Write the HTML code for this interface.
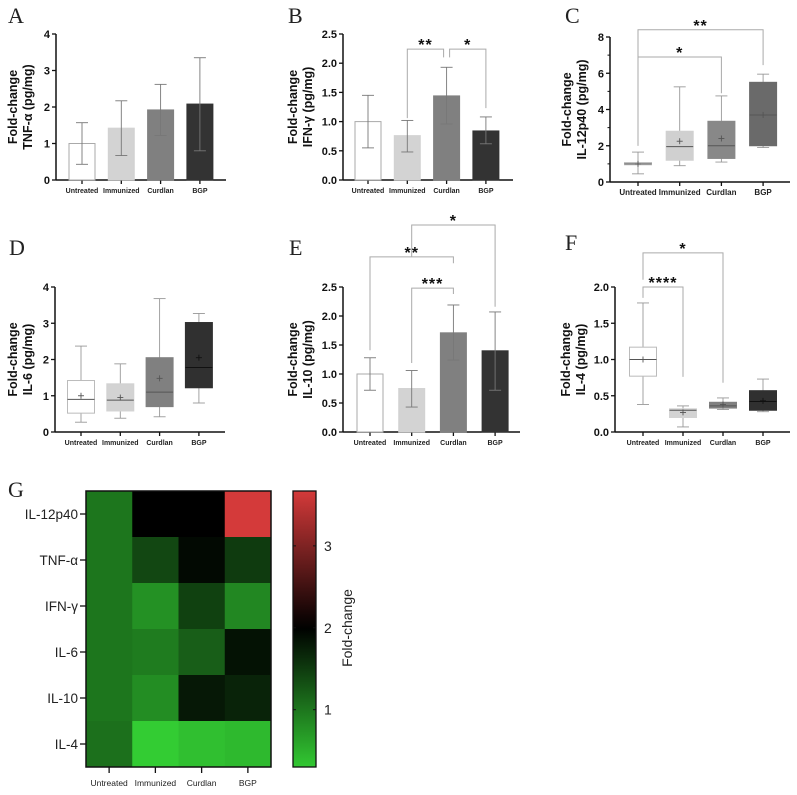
<!DOCTYPE html>
<html><head><meta charset="utf-8"><style>
html,body{margin:0;padding:0;background:#fff;}
svg{display:block;font-family:"Liberation Sans",Arial,sans-serif;}
.pl{font-family:"Liberation Serif",serif;font-size:22px;fill:#222}
</style></head><body>
<svg id="fig" width="797" height="795" viewBox="0 0 797 795" xmlns="http://www.w3.org/2000/svg"></svg>
<script>
const categories = ["Untreated","Immunized","Curdlan","BGP"];
// Panel A (bar, TNF-a)
const aMean = [1.0, 1.42, 1.92, 2.08];
const aLow  = [0.43, 0.67, 1.22, 0.80];
const aHigh = [1.57, 2.17, 2.62, 3.35];
const aTicks = [0,1,2,3,4];
// Panel B (bar, IFN-g)
const bMean = [1.0, 0.76, 1.44, 0.84];
const bLow  = [0.55, 0.48, 0.96, 0.62];
const bHigh = [1.45, 1.02, 1.93, 1.08];
const bTicks = [0,0.5,1.0,1.5,2.0,2.5];
// Panel C (box, IL-12p40)
const cMin = [0.45, 0.9, 1.1, 1.9];
const cQ1  = [0.95, 1.2, 1.3, 2.0];
const cMed = [1.0, 1.95, 2.0, 3.7];
const cQ3  = [1.07, 2.8, 3.35, 5.5];
const cMax = [1.65, 5.25, 4.75, 5.95];
const cAvg = [1.0, 2.25, 2.4, 3.7];
const cTicks = [0,2,4,6,8];
// Panel D (box, IL-6)
const dMin = [0.27, 0.38, 0.42, 0.8];
const dQ1  = [0.52, 0.58, 0.7, 1.22];
const dMed = [0.9, 0.88, 1.1, 1.78];
const dQ3  = [1.42, 1.33, 2.05, 3.02];
const dMax = [2.37, 1.88, 3.68, 3.27];
const dAvg = [1.0, 0.95, 1.48, 2.05];
const dTicks = [0,1,2,3,4];
// Panel E (bar, IL-10)
const eMean = [1.0, 0.75, 1.71, 1.40];
const eLow  = [0.72, 0.43, 1.24, 0.72];
const eHigh = [1.28, 1.06, 2.19, 2.07];
const eTicks = [0,0.5,1.0,1.5,2.0,2.5];
// Panel F (box, IL-4)
const fMin = [0.38, 0.07, 0.31, 0.28];
const fQ1  = [0.77, 0.2, 0.33, 0.3];
const fMed = [1.0, 0.3, 0.36, 0.42];
const fQ3  = [1.17, 0.32, 0.41, 0.57];
const fMax = [1.78, 0.36, 0.47, 0.73];
const fAvg = [1.0, 0.27, 0.38, 0.43];
const fTicks = [0,0.5,1.0,1.5,2.0];
// Heatmap G
const hmRows = ["IL-12p40","TNF-α","IFN-γ","IL-6","IL-10","IL-4"];
const hmValues = [
  [1.0, 2.0, 2.0, 3.7],
  [1.0, 1.4, 1.92, 1.5],
  [1.0, 0.77, 1.45, 0.85],
  [1.0, 0.95, 1.2, 1.85],
  [1.0, 0.8, 1.8, 1.7],
  [1.05, 0.27, 0.38, 0.43]
];
const cbTicks = [1,2,3];

const NS="http://www.w3.org/2000/svg";
const svg=document.getElementById('fig');
function el(tag,attrs,parent,text){const e=document.createElementNS(NS,tag);for(const k in attrs)e.setAttribute(k,attrs[k]);if(text!==undefined)e.textContent=text;(parent||svg).appendChild(e);return e;}

function axes(p){
  const g=el('g',{});
  
  
  const ys=v=>p.y0-(v/p.max)*(p.y0-p.yTop);
  p.ys=ys;
  p.xs=i=>p.cx0+i*p.step;
  el('line',{x1:p.ax,y1:p.y0,x2:p.ax,y2:p.yTop,stroke:'#111','stroke-width':1.5},g);
  el('line',{x1:p.ax,y1:p.y0,x2:p.axEnd,y2:p.y0,stroke:'#111','stroke-width':1.5},g);
  p.ticks.forEach(t=>{
    const y=ys(t);
    el('line',{x1:p.ax-4,y1:y,x2:p.ax,y2:y,stroke:'#111','stroke-width':1.3},g);
    const tl=el('text',{x:p.ax-6,y:y+4,'text-anchor':'end','font-size':11,'font-weight':'bold',fill:'#111'},g,p.dec?t.toFixed(1):String(t));
    
    
  });
  if(p.minor){for(let k=0;k<p.ticks.length-1;k++){const y=ys((p.ticks[k]+p.ticks[k+1])/2);el('line',{x1:p.ax-2.5,y1:y,x2:p.ax,y2:y,stroke:'#111','stroke-width':1},g);}}
  categories.forEach((c,i)=>{
    const x=p.xs(i);
    el('line',{x1:x,y1:p.y0,x2:x,y2:p.y0+4,stroke:'#111','stroke-width':1.3},g);
    const cl=el('text',{x:x,y:p.y0+13,'text-anchor':'middle','font-size':p.catSize||7,'font-weight':'bold',fill:'#222'},g,c);
    
    
  });
  const t=el('text',{transform:`translate(${p.titleX},${(p.y0+p.yTop)/2}) rotate(-90)`,'text-anchor':'middle','font-size':12.5,'font-weight':'bold',fill:'#111'},g);
  
  
  el('tspan',{x:0,y:0},t,'Fold-change');
  el('tspan',{x:0,y:15},t,p.title);
  const L=el('text',{x:p.lx,y:p.ly,class:'pl'},svg,p.letter);
  
  
}

function barPanel(p,mean,low,high){
  axes(p);
  const ys=p.ys;
  mean.forEach((m,i)=>{
    const x=p.xs(i);
    const r=el('rect',{x:x-13,y:ys(m),width:26,height:p.y0-ys(m),fill:p.colors[i],stroke:i===0?'#aaa':p.colors[i],'stroke-width':1});
    
    
    const eg=el('g',{stroke:'#777','stroke-width':0.9,fill:'none'});
    
    
    el('line',{x1:x,y1:ys(low[i]),x2:x,y2:ys(high[i])},eg);
    el('line',{x1:x-6,y1:ys(high[i]),x2:x+6,y2:ys(high[i])},eg);
    el('line',{x1:x-6,y1:ys(low[i]),x2:x+6,y2:ys(low[i])},eg);
  });
}

function boxPanel(p,mn,q1,md,q3,mx,avg){
  axes(p);
  const ys=p.ys;
  mn.forEach((v,i)=>{
    const x=p.xs(i), w=p.bw;
    const g=el('g',{});
    
    
    el('line',{x1:x,y1:ys(mn[i]),x2:x,y2:ys(mx[i]),stroke:'#999','stroke-width':0.9},g);
    el('line',{x1:x-6,y1:ys(mn[i]),x2:x+6,y2:ys(mn[i]),stroke:'#999','stroke-width':0.9},g);
    el('line',{x1:x-6,y1:ys(mx[i]),x2:x+6,y2:ys(mx[i]),stroke:'#999','stroke-width':0.9},g);
    el('rect',{x:x-w/2,y:ys(q3[i]),width:w,height:ys(q1[i])-ys(q3[i]),fill:p.colors[i],stroke:i===0?'#bbb':p.colors[i],'stroke-width':1},g);
    const mc=i===3&&p.dark?'#111':'#555';
    el('line',{x1:x-w/2,y1:ys(md[i]),x2:x+w/2,y2:ys(md[i]),stroke:mc,'stroke-width':1},g);
    el('line',{x1:x-3,y1:ys(avg[i]),x2:x+3,y2:ys(avg[i]),stroke:mc,'stroke-width':0.9},g);
    el('line',{x1:x,y1:ys(avg[i])-3,x2:x,y2:ys(avg[i])+3,stroke:mc,'stroke-width':0.9},g);
  });
}

function bracket(p,i,j,h,li,lj,stars,offL,offR){
  const ys=p.ys;
  const xa=p.xs(i)+(offL||0), xb=p.xs(j)+(offR||0);
  const g=el('g',{stroke:'#aaa','stroke-width':1,fill:'none'});
  
  
  el('polyline',{points:`${xa},${ys(li)} ${xa},${ys(h)} ${xb},${ys(h)} ${xb},${ys(lj)}`},g);
  const t=el('text',{x:(xa+xb)/2,y:ys(h)+1,'text-anchor':'middle','font-size':16,'font-weight':'bold',fill:'#111','letter-spacing':'1'},svg,stars);
  
  
}

const barCols=['#ffffff','#d3d3d3','#808080','#333333'];
const pA={name:'panel-a',letter:'A',title:'TNF-α (pg/mg)',lx:8,ly:23,ax:56,axEnd:226,y0:180,yTop:34,max:4,ticks:aTicks,cx0:82,step:39.3,colors:barCols,titleX:17};
barPanel(pA,aMean,aLow,aHigh);
const pB={name:'panel-b',letter:'B',title:'IFN-γ (pg/mg)',lx:288,ly:23,ax:343,axEnd:513,y0:180,yTop:34,max:2.5,ticks:bTicks,dec:true,cx0:368,step:39.3,colors:barCols,titleX:297};
barPanel(pB,bMean,bLow,bHigh);
bracket(pB,1,2,2.24,1.06,2.1,'**',0,-3);
bracket(pB,2,3,2.24,2.1,1.23,'*',3,0);
const pC={name:'panel-c',letter:'C',title:'IL-12p40 (pg/mg)',lx:565,ly:23,ax:610,axEnd:790,y0:182,yTop:37,max:8,ticks:cTicks,minor:true,cx0:638,step:41.7,bw:27,colors:['#ffffff','#d0d0d0','#888888','#6a6a6a'],titleX:571,catSize:8};
boxPanel(pC,cMin,cQ1,cMed,cQ3,cMax,cAvg);
bracket(pC,0,3,8.4,2.0,6.45,'**');
bracket(pC,0,2,6.9,2.0,4.9,'*');
const pD={name:'panel-d',letter:'D',title:'IL-6 (pg/mg)',lx:9,ly:255,ax:55,axEnd:225,y0:432,yTop:287,max:4,ticks:dTicks,cx0:81,step:39.3,bw:27,dark:true,colors:['#ffffff','#d3d3d3','#808080','#303030'],titleX:17};
boxPanel(pD,dMin,dQ1,dMed,dQ3,dMax,dAvg);
const pE={name:'panel-e',letter:'E',title:'IL-10 (pg/mg)',lx:289,ly:255,ax:343,axEnd:520,y0:432,yTop:287,max:2.5,ticks:eTicks,dec:true,cx0:370,step:41.7,colors:barCols,titleX:297};
barPanel(pE,eMean,eLow,eHigh);
bracket(pE,0,2,3.02,1.41,2.91,'**');
bracket(pE,1,3,3.57,3.02,2.16,'*');
bracket(pE,1,2,2.48,1.19,2.38,'***');
const pF={name:'panel-f',letter:'F',title:'IL-4 (pg/mg)',lx:565,ly:250,ax:615,axEnd:790,y0:432,yTop:287,max:2.0,ticks:fTicks,dec:true,cx0:643,step:40,bw:27,dark:true,colors:['#ffffff','#d3d3d3','#808080','#303030'],titleX:570};
boxPanel(pF,fMin,fQ1,fMed,fQ3,fMax,fAvg);
bracket(pF,0,2,2.47,2.1,0.68,'*');
bracket(pF,0,1,2.0,1.85,0.76,'****');

// Heatmap
const hm={x0:86,y0:491,cw:46.25,ch:46,vmin:0.3,vmax:3.67,cbX:293,cbW:23,cbTop:491,cbBot:767};
function cmap(v){
  const lo=[50,200,50], hi=[212,58,58];
  let c;
  if(v<=2){const f=Math.max(0,(2-v)/(2-hm.vmin));c=lo.map(x=>Math.round(x*f));}
  else{const f=Math.min(1,(v-2)/(hm.vmax-2));c=hi.map(x=>Math.round(x*f));}
  return `rgb(${c[0]},${c[1]},${c[2]})`;
}
const L=el('text',{x:8,y:497,class:'pl'},svg,'G');


const hg=el('g',{});


hmValues.forEach((row,r)=>{
  row.forEach((v,c)=>{
    const rc=el('rect',{x:hm.x0+c*hm.cw,y:hm.y0+r*hm.ch,width:hm.cw+0.5,height:hm.ch+0.5,fill:cmap(v)},hg);
    
    
  });
  const y=hm.y0+r*hm.ch+hm.ch/2;
  el('line',{x1:80,y1:y,x2:86,y2:y,stroke:'#111','stroke-width':1.3},svg);
  const rl=el('text',{x:78,y:y+5,'text-anchor':'end','font-size':13.5,fill:'#222'},svg,hmRows[r]);
  
  
});
el('rect',{x:hm.x0,y:hm.y0,width:hm.cw*4,height:hm.ch*6,fill:'none',stroke:'#111','stroke-width':1.5},svg);
categories.forEach((c,i)=>{
  const x=hm.x0+i*hm.cw+hm.cw/2;
  el('line',{x1:x,y1:767,x2:x,y2:773,stroke:'#111','stroke-width':1.3},svg);
  const cl=el('text',{x:x,y:786,'text-anchor':'middle','font-size':8.5,fill:'#222'},svg,c);
  
  
});
// colorbar
const defs=el('defs',{});
const lg=el('linearGradient',{id:'cb',x1:0,y1:1,x2:0,y2:0},defs);
for(let k=0;k<=20;k++){const v=hm.vmin+(hm.vmax-hm.vmin)*k/20;el('stop',{offset:(k/20),'stop-color':cmap(v)},lg);}
const cb=el('rect',{x:hm.cbX,y:hm.cbTop,width:hm.cbW,height:hm.cbBot-hm.cbTop,fill:'url(#cb)',stroke:'#111','stroke-width':1.3});


const cys=v=>hm.cbBot-(v-hm.vmin)/(hm.vmax-hm.vmin)*(hm.cbBot-hm.cbTop);
cbTicks.forEach(t=>{
  const y=cys(t);
  el('line',{x1:hm.cbX,y1:y,x2:hm.cbX+3,y2:y,stroke:'#111','stroke-width':1},svg);
  el('line',{x1:hm.cbX+hm.cbW-3,y1:y,x2:hm.cbX+hm.cbW,y2:y,stroke:'#111','stroke-width':1},svg);
  const tl=el('text',{x:324,y:y+5,'font-size':14,fill:'#222'},svg,String(t));
  
  
});
const ct=el('text',{transform:'translate(352,628) rotate(-90)','text-anchor':'middle','font-size':14,fill:'#222'},svg,'Fold-change');


</script>
</body></html>
